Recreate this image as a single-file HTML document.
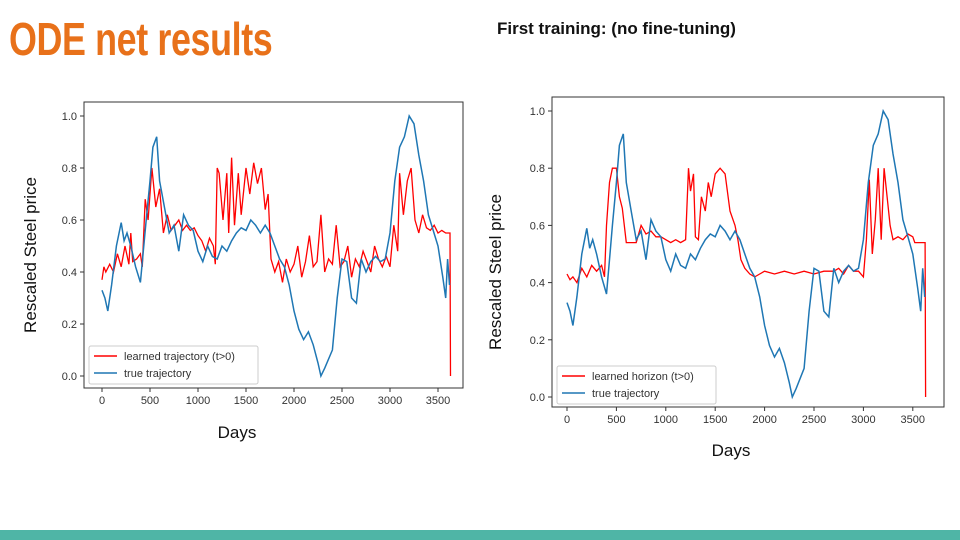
<!DOCTYPE html>
<html><head><meta charset="utf-8"><style>
body{margin:0;width:960px;height:540px;background:#fff;position:relative;overflow:hidden;font-family:"Liberation Sans",sans-serif}
#title{position:absolute;left:9px;top:12px;font:bold 46px "Liberation Sans",sans-serif;color:#e8711a;letter-spacing:-0.5px;transform:scaleX(0.78);transform-origin:0 0;white-space:nowrap}
#sub{position:absolute;left:497px;top:19px;font:bold 17px "Liberation Sans",sans-serif;color:#111}
#bar{position:absolute;left:0;top:530px;width:960px;height:10px;background:#4fb5a6}
svg{position:absolute;left:0;top:0}
</style></head><body>
<div id="title">ODE net results</div>
<div id="sub">First training: (no fine-tuning)</div>
<div id="bar"></div>
<svg id="chart" width="960" height="540"></svg>
<script>
const xTicks=[0,500,1000,1500,2000,2500,3000,3500];
const yTicks=[0.0,0.2,0.4,0.6,0.8,1.0];
const trueDays=[0,30,60,100,150,200,230,260,300,350,400,430,460,500,530,570,600,650,700,750,800,850,900,950,1000,1050,1100,1150,1200,1250,1300,1350,1400,1450,1500,1550,1600,1650,1700,1750,1800,1850,1900,1950,2000,2050,2100,2150,2200,2250,2280,2320,2400,2450,2500,2550,2600,2650,2700,2750,2800,2850,2900,2950,3000,3050,3100,3150,3200,3250,3300,3350,3400,3450,3500,3550,3580,3600,3620];
const trueVals=[0.33,0.30,0.25,0.35,0.50,0.59,0.52,0.55,0.50,0.42,0.36,0.48,0.60,0.75,0.88,0.92,0.75,0.65,0.55,0.58,0.48,0.62,0.58,0.56,0.48,0.44,0.50,0.46,0.45,0.50,0.48,0.52,0.55,0.57,0.56,0.60,0.58,0.55,0.58,0.55,0.50,0.45,0.42,0.35,0.25,0.18,0.14,0.17,0.12,0.05,0.00,0.03,0.10,0.30,0.45,0.44,0.30,0.28,0.45,0.40,0.44,0.46,0.44,0.45,0.55,0.75,0.88,0.92,1.00,0.97,0.85,0.75,0.62,0.56,0.50,0.38,0.30,0.45,0.35];
const learnDays=[0,20,40,80,120,160,200,240,280,300,320,360,400,420,450,480,520,560,600,640,680,720,760,800,840,880,920,960,1000,1040,1080,1120,1160,1180,1200,1220,1260,1300,1320,1350,1380,1420,1450,1500,1540,1580,1620,1660,1700,1730,1760,1800,1840,1880,1920,1960,2000,2040,2080,2120,2160,2200,2240,2280,2320,2360,2400,2440,2480,2520,2560,2600,2640,2680,2720,2760,2800,2840,2880,2920,2960,3000,3040,3080,3100,3140,3180,3220,3260,3300,3340,3380,3420,3460,3500,3540,3580,3610,3625,3630];
const learnVals=[0.37,0.42,0.40,0.43,0.40,0.47,0.42,0.50,0.43,0.55,0.44,0.45,0.47,0.42,0.68,0.60,0.80,0.65,0.72,0.55,0.62,0.56,0.58,0.60,0.56,0.58,0.56,0.57,0.54,0.52,0.48,0.53,0.50,0.43,0.80,0.78,0.60,0.78,0.55,0.84,0.58,0.78,0.62,0.80,0.70,0.82,0.74,0.80,0.64,0.70,0.45,0.40,0.44,0.36,0.45,0.40,0.43,0.50,0.38,0.44,0.54,0.42,0.44,0.62,0.40,0.45,0.43,0.58,0.42,0.44,0.50,0.38,0.45,0.42,0.48,0.44,0.40,0.50,0.45,0.42,0.46,0.42,0.58,0.48,0.78,0.62,0.75,0.80,0.60,0.55,0.62,0.57,0.56,0.58,0.55,0.56,0.55,0.55,0.55,0.0];
const horizonDays=[0,30,60,100,150,200,250,300,350,380,400,430,460,500,530,560,600,650,700,750,800,850,900,950,1000,1050,1100,1150,1200,1230,1250,1280,1300,1330,1360,1400,1430,1460,1500,1550,1600,1650,1700,1730,1760,1800,1850,1900,1950,2000,2100,2200,2300,2400,2500,2600,2700,2750,2800,2850,2900,2950,3000,3030,3060,3090,3120,3150,3180,3210,3240,3270,3300,3350,3400,3450,3500,3520,3600,3625,3630];
const horizonVals=[0.43,0.41,0.42,0.40,0.45,0.42,0.46,0.44,0.46,0.42,0.60,0.75,0.80,0.80,0.70,0.66,0.54,0.54,0.54,0.60,0.57,0.58,0.56,0.56,0.55,0.54,0.55,0.54,0.55,0.80,0.72,0.78,0.56,0.55,0.70,0.65,0.75,0.70,0.78,0.80,0.78,0.65,0.60,0.55,0.48,0.45,0.43,0.42,0.43,0.44,0.43,0.44,0.43,0.44,0.43,0.44,0.44,0.45,0.43,0.46,0.44,0.44,0.42,0.55,0.76,0.50,0.62,0.80,0.55,0.80,0.70,0.60,0.55,0.56,0.55,0.57,0.56,0.54,0.54,0.54,0.0];

const NS="http://www.w3.org/2000/svg";
const svg=document.getElementById('chart');
function mk(tag,attrs,parent){const e=document.createElementNS(NS,tag);for(const k in attrs)e.setAttribute(k,attrs[k]);(parent||svg).appendChild(e);return e;}
function drawChart(c,prefix,redDays,redVals,redLabel){
  const g=mk('g',{});
  
  
  const xs=d=>c.x0+(d/500)*c.xs, ys=v=>c.y0-(v/0.2)*c.ys;
  const box=mk('rect',{x:c.bx,y:c.by,width:c.bw,height:c.bh,fill:'#fff',stroke:'#333','stroke-width':1},g);
  
  
  xTicks.forEach(t=>{
    const x=xs(t);
    mk('line',{x1:x,x2:x,y1:c.by+c.bh,y2:c.by+c.bh+4,stroke:'#333'},g);
    const tx=mk('text',{x:x,y:c.by+c.bh+16,'text-anchor':'middle','font-size':11,fill:'#333'},g);
    tx.textContent=t;
    
    
  });
  yTicks.forEach(t=>{
    const y=ys(t);
    mk('line',{x1:c.bx-4,x2:c.bx,y1:y,y2:y,stroke:'#333'},g);
    const tx=mk('text',{x:c.bx-7,y:y+4,'text-anchor':'end','font-size':11,fill:'#333'},g);
    tx.textContent=t.toFixed(1);
    
    
  });
  const step=(ds,vs)=>{let p='';ds.forEach((d,i)=>{p+=(i?'L':'M')+xs(d).toFixed(1)+','+ys(vs[i]).toFixed(1);});return p;};
  const red=mk('path',{d:step(redDays,redVals),fill:'none',stroke:'#ff0000','stroke-width':1.3},g);
  
  
  const blue=mk('path',{d:step(trueDays,trueVals),fill:'none',stroke:'#1f77b4','stroke-width':1.5},g);
  
  
  const lg=mk('g',{},g);
  
  
  mk('rect',{x:c.lx,y:c.ly,width:c.lw,height:38,fill:'#fff',stroke:'#ccc',rx:2},lg);
  mk('line',{x1:c.lx+5,x2:c.lx+28,y1:c.ly+10,y2:c.ly+10,stroke:'#ff0000','stroke-width':1.6},lg);
  mk('line',{x1:c.lx+5,x2:c.lx+28,y1:c.ly+27,y2:c.ly+27,stroke:'#1f77b4','stroke-width':1.6},lg);
  const l1=mk('text',{x:c.lx+35,y:c.ly+14,'font-size':11,fill:'#333'},lg);l1.textContent=redLabel;
  const l2=mk('text',{x:c.lx+35,y:c.ly+31,'font-size':11,fill:'#333'},lg);l2.textContent='true trajectory';
  const xl=mk('text',{x:c.xlx,y:c.xly,'text-anchor':'middle','font-size':17,fill:'#111'},g);
  xl.textContent='Days';
  
  
  const yl=mk('text',{x:0,y:0,'text-anchor':'middle','font-size':17,fill:'#111',transform:`translate(${c.ylx},${c.yly}) rotate(-90)`},g);
  yl.textContent='Rescaled Steel price';
  
  
}
drawChart({bx:84,by:102,bw:379,bh:286,x0:102,xs:48,y0:376,ys:52,lx:89,ly:346,lw:169,xlx:237,xly:438,ylx:36,yly:255},'left',learnDays,learnVals,'learned trajectory (t>0)');
drawChart({bx:552,by:97,bw:392,bh:310,x0:567,xs:49.4,y0:397,ys:57.2,lx:557,ly:366,lw:159,xlx:731,xly:456,ylx:501,yly:272},'right',horizonDays,horizonVals,'learned horizon (t>0)');
</script>
</body></html>
